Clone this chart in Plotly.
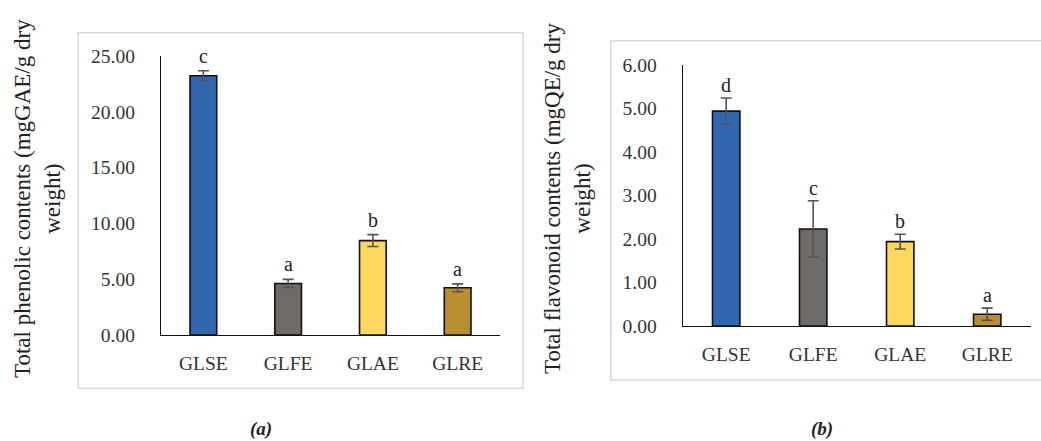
import plotly.graph_objects as go

W, H = 1041, 441

categories = ["GLSE", "GLFE", "GLAE", "GLRE"]
colors = ["#3166b0", "#6e6a68", "#ffd75c", "#b88e2f"]

phenolic_mean = [23.23, 4.62, 8.46, 4.23]
phenolic_err = [0.45, 0.36, 0.53, 0.35]
phenolic_letters = ["c", "a", "b", "a"]

flavonoid_mean = [4.94, 2.23, 1.94, 0.27]
flavonoid_err = [0.30, 0.65, 0.17, 0.14]
flavonoid_letters = ["d", "c", "b", "a"]

y_title_a = "Total phenolic contents (mgGAE/g dry<br>weight)"
y_title_b = "Total flavonoid contents (mgQE/g dry<br>weight)"


def px(x):
    return x / W


def py(y):
    return 1 - y / H


FONT = "Liberation Serif"

fig = go.Figure()

fig.add_trace(go.Bar(
    x=categories, y=phenolic_mean, xaxis="x", yaxis="y",
    marker=dict(color=colors, line=dict(color="#111111", width=1.6)),
    width=0.315,
    error_y=dict(type="data", array=phenolic_err, color="#555555", thickness=1.6, width=5.5),
    showlegend=False, hoverinfo="skip",
))
fig.add_trace(go.Bar(
    x=categories, y=flavonoid_mean, xaxis="x2", yaxis="y2",
    marker=dict(color=colors, line=dict(color="#111111", width=1.6)),
    width=0.315,
    error_y=dict(type="data", array=flavonoid_err, color="#555555", thickness=1.6, width=5.5),
    showlegend=False, hoverinfo="skip",
))

xaxis_common = dict(
    showline=True, linecolor="#111111", linewidth=1.3, showgrid=False, zeroline=False,
    ticks="", range=[-0.5, 3.5], fixedrange=True, automargin=False,
    tickfont=dict(family=FONT, size=19.5, color="#333333"), ticklabelstandoff=10,
)
yaxis_common = dict(
    showline=True, linecolor="#111111", linewidth=1.3, showgrid=False, zeroline=False,
    ticks="", tickformat=".2f", fixedrange=True, automargin=False,
    tickfont=dict(family=FONT, size=19.5, color="#333333"), ticklabelstandoff=21,
)

annotations = []
for i, c in enumerate(categories):
    annotations.append(dict(
        x=c, y=phenolic_mean[i] + phenolic_err[i], xref="x", yref="y",
        text=phenolic_letters[i], showarrow=False, yshift=15, yanchor="middle",
        font=dict(family=FONT, size=20, color="#222222"),
    ))
    annotations.append(dict(
        x=c, y=flavonoid_mean[i] + flavonoid_err[i], xref="x2", yref="y2",
        text=flavonoid_letters[i], showarrow=False, yshift=13, yanchor="middle",
        font=dict(family=FONT, size=20, color="#222222"),
    ))

annotations += [
    dict(x=px(37), y=py(199), xref="paper", yref="paper", text=y_title_a, textangle=-90,
         showarrow=False, xanchor="center", yanchor="middle",
         font=dict(family=FONT, size=23, color="#222222")),
    dict(x=px(567), y=py(199), xref="paper", yref="paper", text=y_title_b, textangle=-90,
         showarrow=False, xanchor="center", yanchor="middle",
         font=dict(family=FONT, size=23, color="#222222")),
    dict(x=px(261), y=py(429), xref="paper", yref="paper", text="<b><i>(a)</i></b>",
         showarrow=False, xanchor="center", yanchor="middle",
         font=dict(family=FONT, size=19, color="#222222")),
    dict(x=px(822), y=py(429), xref="paper", yref="paper", text="<b><i>(b)</i></b>",
         showarrow=False, xanchor="center", yanchor="middle",
         font=dict(family=FONT, size=19, color="#222222")),
]

shapes = [
    dict(type="rect", xref="paper", yref="paper", x0=px(78.3), x1=px(523), y0=py(388.3), y1=py(32.7),
         line=dict(color="#d9d9d9", width=1.5), fillcolor="rgba(0,0,0,0)", layer="below"),
    dict(type="rect", xref="paper", yref="paper", x0=px(610.7), x1=px(1046), y0=py(380), y1=py(40.7),
         line=dict(color="#d9d9d9", width=1.5), fillcolor="rgba(0,0,0,0)", layer="below"),
]

fig.update_layout(
    width=W, height=H, autosize=False, margin=dict(l=0, r=0, t=0, b=0, pad=0),
    paper_bgcolor="white", plot_bgcolor="white",
    xaxis=dict(domain=[px(161), px(500)], anchor="y", **xaxis_common),
    yaxis=dict(domain=[py(335), py(56)], anchor="x", range=[0, 25], dtick=5, **yaxis_common),
    xaxis2=dict(domain=[px(682.7), px(1030.7)], anchor="y2", **xaxis_common),
    yaxis2=dict(domain=[py(326), py(65)], anchor="x2", range=[0, 6], dtick=1, **yaxis_common),
    annotations=annotations, shapes=shapes,
)

fig.write_html(
    "out.html",
    config={"responsive": False, "displayModeBar": False},
    post_script="document.body.style.margin='0';document.body.style.overflow='hidden';",
)
